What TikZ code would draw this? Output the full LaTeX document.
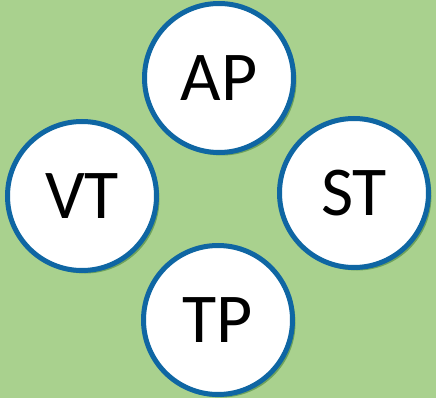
\documentclass[tikz,border=0pt]{standalone}
\usepackage{fontspec}
\setmainfont{Carlito}
\usetikzlibrary{shadows}
\definecolor{bggreen}{HTML}{A9D18E}
\definecolor{ringblue}{HTML}{0F66A3}
\begin{document}
\begin{tikzpicture}[x=1pt,y=-1pt,
	topic/.style={circle, draw=ringblue, line width=5pt, fill=white, minimum size=149pt, inner sep=0pt,
		font=\fontsize{70}{70}\selectfont,
		drop shadow={shadow xshift=3pt, shadow yshift=-3pt, opacity=0.35, fill=black!70!green}}]
	\fill [bggreen] (0,0) rectangle (436,398);
	\useasboundingbox (0,0) rectangle (436,398);
	\node [topic] (ap) at (219,78) {AP};
	\node [topic] (vt) at (82,196) {VT};
	\node [topic] (st) at (354,193) {ST};
	\node [topic] (tp) at (218,320) {TP};
\end{tikzpicture}
\end{document}
